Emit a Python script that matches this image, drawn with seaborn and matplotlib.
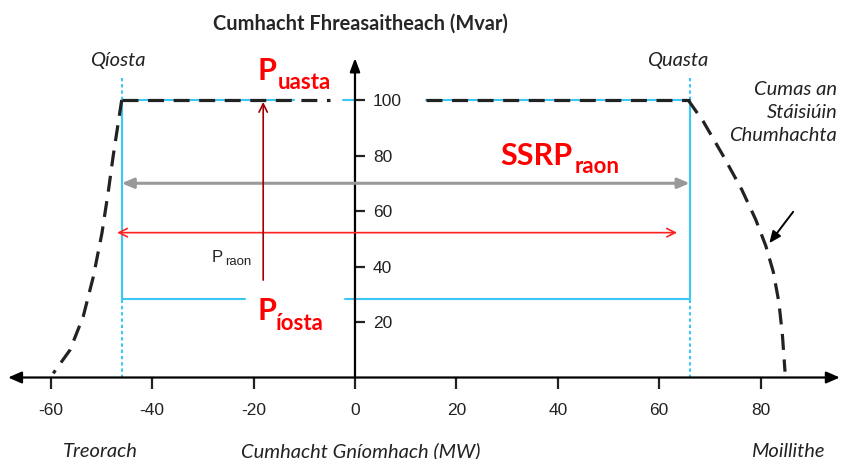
import matplotlib
matplotlib.use("Agg")
import matplotlib.pyplot as plt
import seaborn as sns

# Ais (MW / Mvar)
p_ticks = [-60, -40, -20, 0, 20, 40, 60, 80]
q_ticks = [20, 40, 60, 80, 100]

# Teorainneacha an SSRP
p_iosta_q = 28.4
q_iosta_p = -46
q_uasta_p = 66
p_uasta_q = 100

# Cumas an stáisiúin chumhachta (léite ón bpictiúr)
left_curve_p = [-46.0, -46.7, -47.7, -48.6, -49.9, -51.6, -53.6, -56.2, -59.5]
left_curve_q = [100, 91.6, 79.6, 67.6, 52.0, 36.3, 21.9, 9.9, 1.5]
right_curve_p = [65.7, 68.7, 72.7, 76.3, 79.0, 81.0, 82.5, 83.6, 84.3, 84.8]
right_curve_q = [100, 92.2, 79.6, 67.6, 57.0, 47.5, 38.0, 27.0, 15.0, 2.1]

ssrp_raon_q = 70
p_raon_q = 52.2
p_raon_p = [-46.9, 63.5]
p_arrow_p = -18.1

BLUE = "#3cc8f4"
DASH = "#222222"

sns.set_style("white")
plt.rcParams["font.family"] = ["Lato", "DejaVu Sans"]
plt.rcParams["lines.dashed_pattern"] = [5.0, 3.0]
plt.rcParams["lines.dotted_pattern"] = [1.6, 1.4]

fig = plt.figure(figsize=(8.41, 4.59), dpi=100)
ax = fig.add_axes([0, 0, 1, 1])
ax.set_xlim(-70.0, 95.84)
ax.set_ylim(-29.37, 136.04)

# dronuilleog ghorm
sns.lineplot(x=[q_iosta_p, q_iosta_p], y=[p_iosta_q, p_uasta_q], color=BLUE, lw=1.5,
             estimator=None, sort=False, ax=ax)
sns.lineplot(x=[q_uasta_p, q_uasta_p], y=[p_iosta_q, p_uasta_q], color=BLUE, lw=1.5,
             estimator=None, sort=False, ax=ax)
for seg in ([q_iosta_p, -21.7], [-2.0, q_uasta_p]):
    sns.lineplot(x=seg, y=[p_iosta_q] * 2, color=BLUE, lw=1.5, ax=ax)
for seg in ([q_iosta_p, -12], [-2.4, 0], [14, q_uasta_p]):
    sns.lineplot(x=seg, y=[p_uasta_q] * 2, color=BLUE, lw=1.5, ax=ax)
for xv in (q_iosta_p, q_uasta_p):
    for seg in ([0, p_iosta_q], [p_uasta_q, 107.9]):
        sns.lineplot(x=[xv, xv], y=seg, color=BLUE, lw=1.5, linestyle=":",
                     estimator=None, sort=False, ax=ax)

# cuar an chumais
sns.lineplot(x=left_curve_p, y=left_curve_q, color=DASH, lw=2.3, linestyle="--",
             estimator=None, sort=False, ax=ax)
sns.lineplot(x=right_curve_p, y=right_curve_q, color=DASH, lw=2.3, linestyle="--",
             estimator=None, sort=False, ax=ax)
for seg in ([q_iosta_p, -5], [14, q_uasta_p]):
    sns.lineplot(x=seg, y=[p_uasta_q] * 2, color=DASH, lw=2.3, linestyle="--", ax=ax)

# aiseanna le saigheada
ax.annotate("", xy=(95.6, 0), xytext=(-68.4, 0),
            arrowprops=dict(arrowstyle="<|-|>,head_length=0.8,head_width=0.35",
                            color="black", lw=1.6, shrinkA=0, shrinkB=0))
ax.annotate("", xy=(0, 115.1), xytext=(0, 0),
            arrowprops=dict(arrowstyle="-|>,head_length=0.8,head_width=0.3",
                            color="black", lw=1.6, shrinkA=0, shrinkB=0))

for s in ax.spines.values():
    s.set_visible(False)
ax.spines["bottom"].set_position(("data", 0))
ax.spines["right"].set_position(("data", 0))
ax.xaxis.set_ticks_position("bottom")
ax.yaxis.set_ticks_position("right")
ax.set_xticks(p_ticks)
ax.set_yticks(q_ticks)
ax.set_xticklabels([str(t) for t in p_ticks], family="Liberation Sans", fontsize=12.5, color="#222")
ax.set_yticklabels([str(t) for t in q_ticks], family="Liberation Sans", fontsize=12.5, color="#222")
ax.tick_params(axis="x", bottom=True, top=False, direction="out", length=8, width=1.6,
               pad=10, color="#222")
ax.tick_params(axis="y", right=True, left=False, direction="out", length=7, width=1.6,
               pad=6, color="#222")
ax.grid(False)
ax.set_xlabel("")
ax.set_ylabel("")

# saigheada
ax.annotate("", xy=(q_uasta_p, ssrp_raon_q), xytext=(q_iosta_p, ssrp_raon_q),
            arrowprops=dict(arrowstyle="<|-|>,head_length=0.7,head_width=0.3",
                            color="#999999", lw=2.2, shrinkA=0, shrinkB=0))
ax.annotate("", xy=(p_raon_p[1], p_raon_q), xytext=(p_raon_p[0], p_raon_q),
            arrowprops=dict(arrowstyle="<->,head_length=0.6,head_width=0.3",
                            color="#ff2020", lw=1.2, shrinkA=0, shrinkB=0))
ax.annotate("", xy=(p_arrow_p, 99.3), xytext=(p_arrow_p, 35.1),
            arrowprops=dict(arrowstyle="->,head_length=0.6,head_width=0.3",
                            color="#a00000", lw=1.2, shrinkA=0, shrinkB=0))
ax.annotate("", xy=(81.7, 48.4), xytext=(86.4, 59.7),
            arrowprops=dict(arrowstyle="-|>,head_length=0.7,head_width=0.3",
                            color="black", lw=1.4, shrinkA=0, shrinkB=0))

# téacs
ax.text(1.0, 127.4, "Cumhacht Fhreasaitheach (Mvar)", ha="center", va="center",
        fontsize=14.4, fontweight="bold")
ax.text(-46.7, 114.4, "Qíosta", ha="center", va="center", fontsize=14.5, style="italic", color="#222")
ax.text(63.7, 114.4, "Quasta", ha="center", va="center", fontsize=14.5, style="italic", color="#222")
ax.text(95.1, 95.5, "Cumas an\nStáisiúin\nChumhachta", ha="right", va="center",
        fontsize=14.5, style="italic", color="#222", linespacing=1.45)
ax.text(-50.3, -26.6, "Treorach", ha="center", va="center", fontsize=14.5, style="italic", color="#222")
ax.text(1.2, -26.6, "Cumhacht Gníomhach (MW)", ha="center", va="center", fontsize=14.5,
        style="italic", color="#222")
ax.text(85.4, -26.6, "Moillithe", ha="center", va="center", fontsize=14.5, style="italic", color="#222")

ax.text(-19.3, 107.2, "P", ha="left", va="baseline", fontsize=22, fontweight="bold", color="red")
ax.text(-15.2, 103.9, "uasta", ha="left", va="baseline", fontsize=16, fontweight="bold", color="red")
ax.text(-19.3, 20.7, "P", ha="left", va="baseline", fontsize=22, fontweight="bold", color="red")
ax.text(-15.6, 17.1, "íosta", ha="left", va="baseline", fontsize=16, fontweight="bold", color="red")
ax.text(28.6, 76.6, "SSRP", ha="left", va="baseline", fontsize=22, fontweight="bold", color="red")
ax.text(43.4, 73.7, "raon", ha="left", va="baseline", fontsize=16, fontweight="bold", color="red")
ax.text(-28.2, 41.6, "P", ha="left", va="baseline", fontsize=12, family="Liberation Sans", color="#222")
ax.text(-25.7, 40.6, "raon", ha="left", va="baseline", fontsize=9.5, family="Liberation Sans", color="#222")

fig.savefig("out.png", dpi=100)
